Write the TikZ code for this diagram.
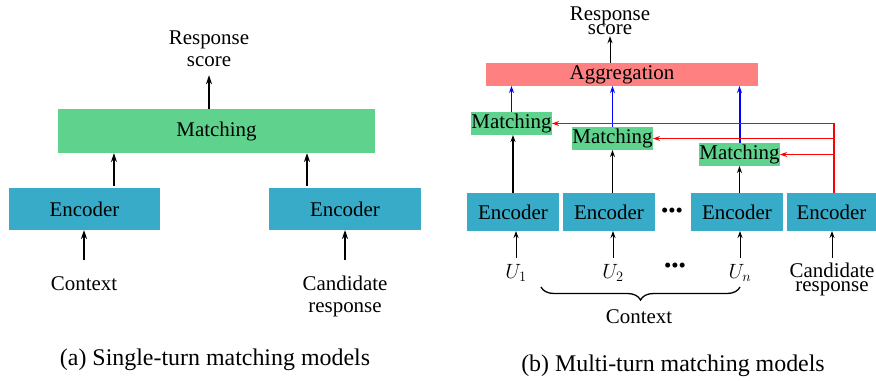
\documentclass[tikz,border=0pt]{standalone}
\usepackage{fontspec}
\setmainfont{LiberationSerif}[Extension=.ttf,UprightFont=*-Regular,BoldFont=*-Bold,ItalicFont=*-Italic,BoldItalicFont=*-BoldItalic]
\usetikzlibrary{arrows.meta,positioning,calc,decorations.pathreplacing}
\definecolor{matchgreen}{HTML}{5FD38D}
\definecolor{encblue}{HTML}{37ABC8}
\definecolor{aggred}{HTML}{FF8080}

\begin{document}
\begin{tikzpicture}[x=1bp,y=-1bp,font=\fontsize{21}{22}\selectfont,
  blk/.style={inner sep=0pt,outer sep=0pt},
  encbox/.style={blk,fill=encblue},
  matchbox/.style={blk,fill=matchgreen},
  lbl/.style={inner sep=0pt,align=center},
  tight/.style={font={\fontsize{21}{14}\selectfont\lineskiplimit=-100pt}},
  capt/.style={inner sep=0pt,anchor=base,font=\fontsize{24}{28}\selectfont},
  bigarr/.style={-{Stealth[length=9bp,width=6bp]},line width=2bp},
  smallarr/.style={-{Stealth[length=7bp,width=5bp]},line width=1.2bp}]
\useasboundingbox (0,0) rectangle (876,380);
% left block: single-turn
\node[matchbox,minimum width=317bp,minimum height=44bp] (match) at (216.5,131) {Matching};
\node[encbox,minimum width=151bp,minimum height=42bp] (encL) at (84.5,209) {Encoder};
\node[encbox,minimum width=152bp,minimum height=42bp] (encR) at (345,209) {Encoder};
\node[lbl,anchor=north] (respL) at (209,31) {Response\\score};
\node[lbl,anchor=base] (ctxL) at (84,290) {Context};
\node[lbl,anchor=north] (candL) at (345,275.7) {Candidate\\response};
\node[capt] (capA) at (215,365.7) {(a) Single-turn matching models};
\coordinate (aL) at ($(encL.north west)!0.695!(encL.north east)$);
\coordinate (aR) at ($(encR.north west)!0.25!(encR.north east)$);
\draw[bigarr] (match.north -| respL) -- ([yshift=-8bp]respL.south);
\draw[bigarr] ([yshift=2bp]aL) -- (aL |- match.south);
\draw[bigarr] ([yshift=2bp]aR) -- (aR |- match.south);
\draw[bigarr] ([yshift=15.7bp]ctxL.north) -- (ctxL.north |- encL.south);
\draw[bigarr] ([yshift=15.7bp]candL.north) -- (candL.north |- encR.south);
% right block: multi-turn
\node[blk,fill=aggred,minimum width=272bp,minimum height=23bp] (aggr) at (622,74.5) {Aggregation};
\node[matchbox,minimum width=81bp,minimum height=23bp] (m1) at (511.5,123.5) {Matching};
\node[matchbox,minimum width=81bp,minimum height=23bp] (m2) at (612.5,138.5) {Matching};
\node[matchbox,minimum width=81bp,minimum height=23bp] (m3) at (739.5,154.5) {Matching};
\node[encbox,minimum width=92bp,minimum height=38bp] (e1) at (513,212) {Encoder};
\node[encbox,minimum width=92bp,minimum height=38bp] (e2) at (609,212) {Encoder};
\node[encbox,minimum width=92bp,minimum height=38bp] (e3) at (737,212) {Encoder};
\node[encbox,minimum width=89bp,minimum height=38bp] (e4) at (831.5,212) {Encoder};
\node[lbl] (edots) at (672,213) {\textbullet\textbullet\textbullet};
\node[lbl,anchor=base] (u1) at (516,278.3) {$U_1$};
\node[lbl,anchor=base] (u2) at (613,278.3) {$U_2$};
\node[lbl] (udots) at (675,268) {\textbullet\textbullet\textbullet};
\node[lbl,anchor=base] (un) at (740,278.3) {$U_n$};
\node[lbl,tight,anchor=north] (candR) at (832,262.4) {Candidate\\response};
\node[lbl,tight,anchor=north] (respR) at (610,6.5) {Response\\score};
\coordinate (bl) at (541,287);
\coordinate (br) at (740,287);
\draw[decorate,decoration={brace,mirror,amplitude=13bp},line width=1.3bp] (bl) -- (br);
\node[lbl,anchor=base] (ctxR) at (639,323.3) {Context};
\node[capt] (capB) at (673,371.7) {(b) Multi-turn matching models};
\draw[smallarr,line width=1bp] (respR.south |- aggr.north) -- ([yshift=-1.5bp]respR.south);
\draw[smallarr,line width=1.6bp] (e1.north) -- (e1.north |- m1.south);
\draw[smallarr,line width=1.2bp] (m2.south |- e2.north) -- (m2.south);
\draw[smallarr,line width=0.8bp] (m3.south |- e3.north) -- (m3.south);
\draw[smallarr,blue,line width=0.8bp] (m1.north) -- (m1.north |- aggr.south);
\draw[smallarr,blue,line width=1.5bp] (m2.north) -- (m2.north |- aggr.south);
\draw[smallarr,blue,line width=2bp] (m3.north) -- (m3.north |- aggr.south);
\draw[smallarr,red,line width=1.6bp] ([xshift=2.5bp]e4.north) |- (m1.east);
\draw[smallarr,red,line width=1.6bp] ([xshift=2.5bp]e4.north) |- (m2.east);
\draw[smallarr,red,line width=1.6bp] ([xshift=2.5bp]e4.north) |- (m3.east);
\draw[smallarr,line width=1bp] ([yshift=6bp]u1.north) -- (u1.north |- e1.south);
\draw[smallarr,line width=1bp] ([yshift=6bp]u2.north) -- (u2.north |- e2.south);
\draw[smallarr,line width=1bp] ([yshift=6bp]un.north) -- (un.north |- e3.south);
\draw[smallarr,line width=1bp] ([yshift=4.4bp]candR.north) -- (candR.north |- e4.south);
\end{tikzpicture}
\end{document}
